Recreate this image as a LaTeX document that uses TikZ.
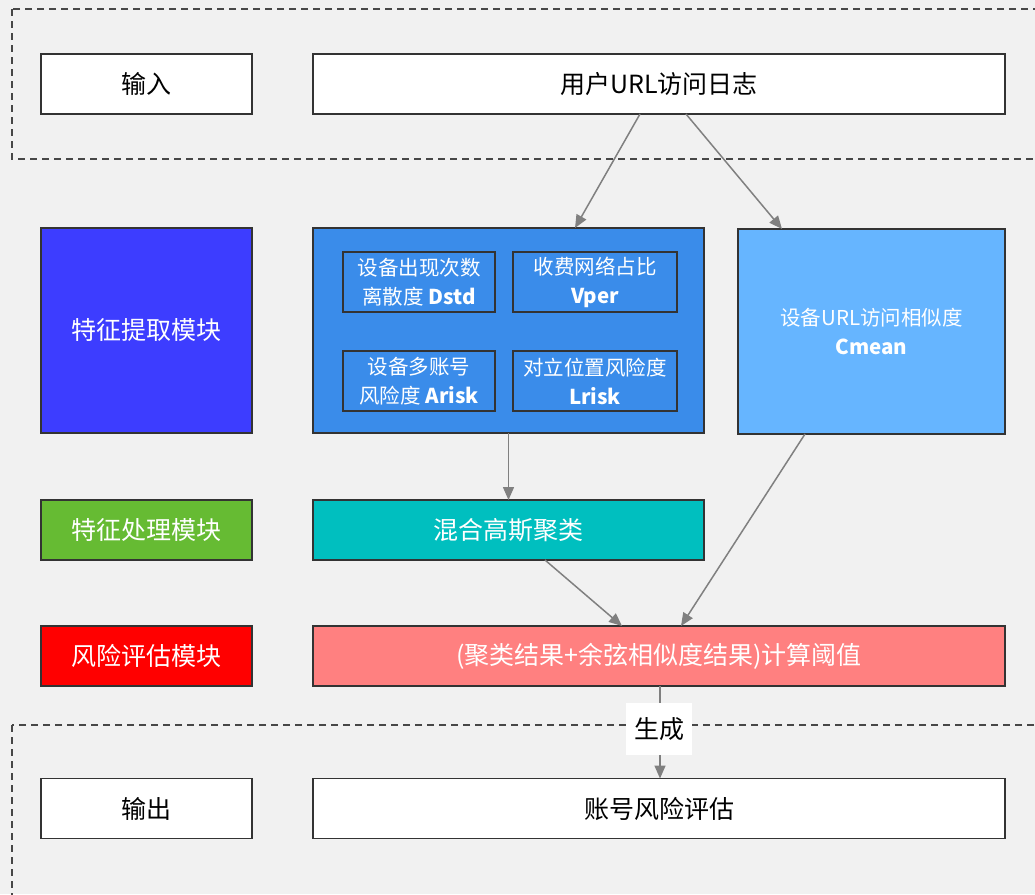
\documentclass[tikz,border=0pt]{standalone}
\usepackage{fontspec}
\setmainfont{Noto Sans CJK SC}
\usetikzlibrary{arrows.meta}
\definecolor{bg}{HTML}{F1F1F1}
\definecolor{edge}{HTML}{333333}
\definecolor{arr}{HTML}{808080}
\definecolor{cviolet}{HTML}{3D3DFF}
\definecolor{cblue}{HTML}{3A8CEA}
\definecolor{clight}{HTML}{66B5FF}
\definecolor{cgreen}{HTML}{66BB33}
\definecolor{cteal}{HTML}{00BFBF}
\definecolor{cred}{HTML}{FF0000}
\definecolor{cpink}{HTML}{FF8080}
\tikzset{
  box/.style={draw=edge, line width=1.5pt, rectangle, outer sep=0pt, inner sep=0pt, align=center,
    font=\fontsize{25}{30}\selectfont},
  whitebox/.style={box, fill=white, text=black},
  colbox/.style={box, fill=#1, text=white},
  inbox/.style={box, fill=cblue, text=white, font=\fontsize{20.5}{29}\selectfont,
    minimum width=152pt, minimum height=60pt},
  conn/.style={draw=arr, line width=1.5pt, -{Triangle[length=13pt,width=11pt]}},
  dashbox/.style={draw=edge!90, line width=1.5pt, dash pattern=on 7pt off 5pt},
}
\begin{document}
\begin{tikzpicture}[x=1pt,y=-1pt]
\useasboundingbox (0,0) rectangle (1035,894);
\clip (0,0) rectangle (1035,894);
\fill[bg] (0,0) rectangle (1035,894);
\draw[dashbox] (12,9) rectangle (1060,159);
\draw[dashbox] (12,725) rectangle (1060,920);

% row 1
\node[whitebox, minimum width=211pt, minimum height=60pt] (in) at (146.5,84) {输入};
\node[whitebox, minimum width=692pt, minimum height=60pt] (log) at (659,84) {用户URL访问日志};

% row 2
\node[colbox=cviolet, minimum width=211pt, minimum height=205pt] (fe) at (146.5,330.5) {特征提取模块};
\node[colbox=cblue, minimum width=391pt, minimum height=205pt] (feat) at (508.5,330.5) {};
\node[inbox] (dstd) at (419,282) {设备出现次数\\离散度 \textbf{Dstd}};
\node[inbox, minimum width=164pt] (vper) at (595,282) {收费网络占比\\\textbf{Vper}};
\node[inbox] (arisk) at (419,381) {设备多账号\\风险度 \textbf{Arisk}};
\node[inbox, minimum width=164pt] (lrisk) at (595,381) {对立位置风险度\\\textbf{Lrisk}};
\node[colbox=clight, minimum width=267pt, minimum height=205pt, font=\fontsize{20.5}{29}\selectfont] (cmean) at (871.5,331.5) {设备URL访问相似度\\\textbf{Cmean}};

% row 3
\node[colbox=cgreen, minimum width=211pt, minimum height=60pt] (fp) at (146.5,530) {特征处理模块};
\node[colbox=cteal, minimum width=391pt, minimum height=60pt] (gmm) at (508.5,530) {混合高斯聚类};

% row 4
\node[colbox=cred, minimum width=211pt, minimum height=60pt] (re) at (146.5,656) {风险评估模块};
\node[colbox=cpink, minimum width=692pt, minimum height=60pt] (thr) at (659,656) {(聚类结果+余弦相似度结果)计算阈值};

% row 5
\node[whitebox, minimum width=211pt, minimum height=60pt] (out) at (146.5,808.5) {输出};
\node[whitebox, minimum width=692pt, minimum height=60pt] (acc) at (659,808.5) {账号风险评估};

% connectors
\draw[conn] (log.south -| 640,0) -- (feat.north -| 575,0);
\draw[conn] (log.south -| 686,0) -- (cmean.north -| 782,0);
\draw[conn] (feat.south) -- (gmm.north);
\draw[conn] (gmm.south -| 545,0) -- (thr.north -| 622,0);
\draw[conn] (cmean.south -| 805,0) -- (thr.north -| 681,0);
\draw[conn] (thr.south -| 660,0) -- (acc.north -| 660,0);
\node[fill=white, inner sep=0pt, minimum width=66pt, minimum height=52pt, font=\fontsize{25}{30}\selectfont] (gen) at (659,729) {生成};
\end{tikzpicture}
\end{document}
